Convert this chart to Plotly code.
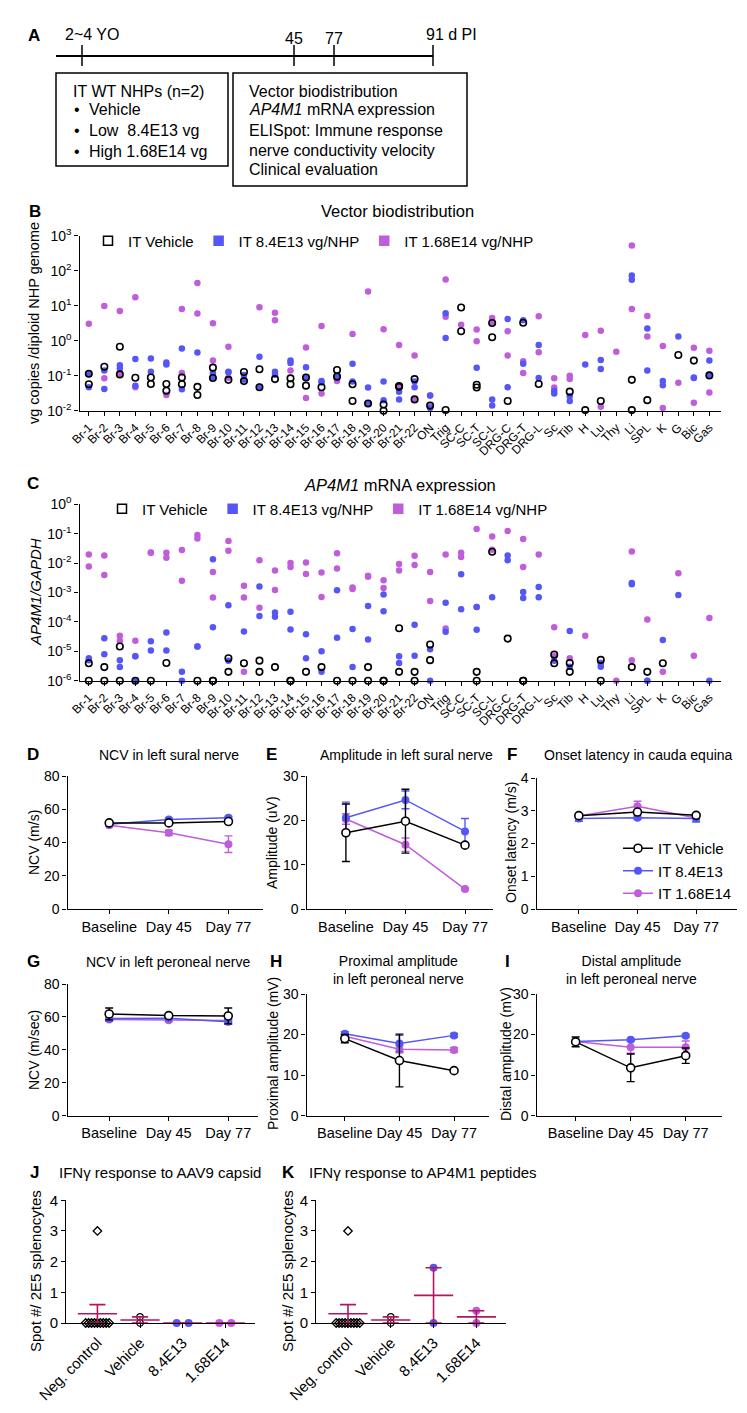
import numpy as np
import plotly.graph_objects as go

W, H = 747, 1413
REG = "Liberation Sans, Arial, sans-serif"
BLUE = "#5457F6"
PURPLE = "#BF5DDA"
CRIMSON = "#B3165E"


def X(p):
    return p / W


def Y(p):
    return 1 - p / H


# ----------------------------- DATA -----------------------------
tissues = ["Br-1", "Br-2", "Br-3", "Br-4", "Br-5", "Br-6", "Br-7", "Br-8", "Br-9", "Br-10",
           "Br-11", "Br-12", "Br-13", "Br-14", "Br-15", "Br-16", "Br-17", "Br-18", "Br-19",
           "Br-20", "Br-21", "Br-22", "ON", "Trig", "SC-C", "SC-T", "SC-L", "DRG-C", "DRG-T",
           "DRG-L", "Sc", "Tib", "H", "Lu", "Thy", "Li", "SPL", "K", "G", "Bic", "Gas"]

# Panel B: vector genome copies / diploid genome (one list per tissue)
bio_vehicle = [[0.114, 0.057], [0.18], [0.67, 0.109], [0.087], [0.089, 0.058], [0.058, 0.037],
               [0.089, 0.057], [0.048, 0.028], [0.17, 0.086], [0.076], [0.128, 0.070],
               [0.153, 0.047], [0.080], [0.084, 0.057], [0.089, 0.052], [0.047], [0.146, 0.094],
               [0.057, 0.019], [0.016], [0.015, 0.010], [0.051, 0.048], [0.080, 0.021],
               [0.014], [0.0105], [8.9, 1.87], [0.046, 0.055], [3.2, 1.25], [0.019], [3.27],
               [0.058], [], [0.035], [0.0104], [0.019], [], [0.076, 0.0104], [0.020], [],
               [0.39], [0.27], [0.102]]
bio_low = [[0.112, 0.047], [0.14, 0.042], [0.20, 0.16], [0.30, 0.052], [0.31, 0.13], [0.21, 0.24],
           [0.60, 0.041], [0.46], [0.12, 0.089], [0.13, 0.125], [0.105, 0.076], [0.35, 0.048],
           [0.13, 0.107], [0.27, 0.23], [0.175, 0.089], [0.070, 0.064], [0.089], [0.22, 0.068],
           [0.046, 0.016], [0.068, 0.020], [0.035, 0.021], [0.068, 0.047],
           [0.027, 0.012], [6.1, 1.20], [], [0.17], [0.021, 0.014], [4.2, 0.047], [3.83, 0.22],
           [0.75, 0.086], [0.031, 0.037], [0.026, 0.019], [0.21], [0.28, 0.156], [], [73, 55],
           [2.24, 0.14], [0.071, 0.053], [1.31], [0.089, 0.086], [0.27, 0.107]]
bio_high = [[3.06], [9.8, 0.084], [7.0, 0.114], [17.5, 0.047], [], [0.028], [8.0, 0.12],
            [44.7, 6.0], [3.13, 0.27], [0.67, 0.087], [], [9.1], [6.25, 3.83], [0.14],
            [0.64, 0.023], [2.61, 0.031], [0.070], [1.56], [25.6], [2.14], [0.75, 0.051],
            [0.38, 0.021], [0.027, 0.013], [56, 4.8], [2.86], [2.09, 0.96], [4.47, 3.35],
            [1.87, 0.38], [0.26, 0.12], [5.0, 0.47], [0.084, 0.046], [0.080, 0.10], [1.46],
            [1.91, 0.013], [0.48], [523, 8.0], [5.1, 1.31], [0.71, 0.012], [0.063],
            [0.63, 0.017], [0.52, 0.033]]

# Panel C: AP4M1 / GAPDH
mrna_vehicle = [[3.9e-6, 1e-6], [2.9e-6, 1e-6], [1.45e-5, 1e-6], [1e-6], [1e-6], [4.0e-6], [],
                [1e-6], [1e-6, 1e-6], [5.8e-6, 2.0e-6], [3.9e-6], [4.8e-6, 2.0e-6], [2.9e-6],
                [1e-6, 1e-6], [2.0e-6], [2.9e-6], [1e-6], [1e-6], [2.9e-6, 1e-6], [1e-6, 1e-6],
                [6.1e-5, 2.0e-6], [2.0e-6, 1e-6], [1.7e-5, 5.0e-6], [], [], [2.0e-6, 1e-6],
                [0.0243], [2.7e-5], [1e-6, 1e-6], [], [7.7e-6, 3.9e-6], [4.0e-6, 2.0e-6], [],
                [5.1e-6, 1e-6], [], [2.9e-6], [2.0e-6], [3.9e-6], [], [], []]
mrna_low = [[5.8e-6, 5.0e-6], [2.8e-5, 7.9e-6], [5.0e-6, 2.9e-6], [6.8e-6, 1e-6],
            [2.2e-5, 1.06e-5], [4.4e-5, 1.06e-5], [2.0e-6, 1e-6], [1.45e-5, 1.45e-5],
            [0.0136, 6.6e-5], [3.7e-4, 4.8e-6], [4.7e-5], [1.6e-3, 1.6e-4], [2.1e-4, 1.5e-4],
            [2.2e-4, 5.5e-5], [3.8e-5, 5.8e-6], [1.0e-5, 2.0e-6], [1.19e-3, 2.9e-5],
            [5.7e-5, 2.9e-6], [3.5e-4, 2.5e-5], [8.5e-4, 2.3e-4], [6.8e-6, 4.0e-6],
            [8.0e-5, 7.0e-6], [1.18e-5, 1e-6], [4.5e-4, 4.6e-5], [4.2e-3, 2.7e-4],
            [3.2e-4, 5.4e-5], [6.9e-4], [0.0182, 0.0126], [1.04e-3, 6.5e-4], [1.55e-3, 6.9e-4],
            [4.8e-6], [4.9e-5, 3.0e-6], [], [3.0e-6, 4.0e-6], [], [1.9e-3, 2.1e-3], [1e-6],
            [2.4e-5], [8.2e-4], [], [1e-6]]
mrna_high = [[0.0197, 0.0077], [0.0182, 0.0039], [2.3e-5, 3.4e-5], [2.3e-5, 6.8e-6],
             [0.0230, 0.0224], [0.0224, 0.0151], [0.0277, 0.0025], [0.090, 0.069],
             [0.0050, 6.7e-4], [0.056, 0.0262], [1.7e-3, 6.7e-4, 2.0e-6], [0.0126, 3.0e-4],
             [0.0056, 1.22e-3], [0.0074, 0.0100], [0.0105, 0.0043], [0.0048, 7.0e-4],
             [0.0218, 0.0065], [1.47e-3, 1.32e-3], [0.0034, 0.0037], [0.0026, 1.43e-3],
             [0.0056, 0.0094], [0.0177, 0.0087], [0.0050, 5.1e-4], [0.0197, 6.0e-5],
             [0.0160, 0.0224], [0.144, 3.2e-4], [0.081, 0.0284], [0.123], [0.066, 0.0074],
             [0.0197], [6.6e-5, 6.8e-6], [5.8e-6], [3.4e-5], [4.0e-6], [1e-6], [0.0249, 5.0e-6],
             [1.2e-4, 1e-6], [2.0e-6], [0.0045], [7.0e-6], [1.35e-4]]

bio_ticks = [1e-2, 1e-1, 1e0, 1e1, 1e2, 1e3]
bio_ticktext = ["10<sup>-2</sup>", "10<sup>-1</sup>", "10<sup>0</sup>", "10<sup>1</sup>",
                "10<sup>2</sup>", "10<sup>3</sup>"]
mrna_ticks = [1e-6, 1e-5, 1e-4, 1e-3, 1e-2, 1e-1, 1e0]
mrna_ticktext = ["10<sup>-6</sup>", "10<sup>-5</sup>", "10<sup>-4</sup>", "10<sup>-3</sup>",
                 "10<sup>-2</sup>", "10<sup>-1</sup>", "10<sup>0</sup>"]

# Panels D-I: electrophysiology (mean, error)
timepoints = ["Baseline", "Day 45", "Day 77"]
sural_ncv = {"veh": [51.8, 51.8, 52.6], "low": [51.0, 53.8, 54.9], "high": [50.4, 45.8, 39.0]}
sural_ncv_err = {"veh": [0.6, 0.6, 0.8], "low": [0.8, 0.8, 0.8], "high": [0.8, 1.6, 5.0]}
sural_amp = {"veh": [17.2, 19.8, 14.4], "low": [20.6, 24.6, 17.5], "high": [20.3, 14.5, 4.5]}
sural_amp_err = {"veh": [6.5, 7.2, 0.5], "low": [3.5, 2.0, 2.9], "high": [1.2, 1.5, 0.3]}
cauda_onset = {"veh": [2.85, 2.96, 2.86], "low": [2.76, 2.79, 2.76], "high": [2.84, 3.14, 2.78]}
cauda_onset_err = {"veh": [0.05, 0.05, 0.05], "low": [0.08, 0.05, 0.1], "high": [0.05, 0.15, 0.12]}
peroneal_ncv = {"veh": [61.8, 60.8, 60.6], "low": [59.0, 59.2, 57.1], "high": [58.4, 58.0, 57.8]}
peroneal_ncv_err = {"veh": [3.6, 1.0, 4.8], "low": [1.5, 0.8, 1.5], "high": [0.8, 0.8, 0.8]}
prox_amp = {"veh": [19.0, 13.6, 11.1], "low": [20.2, 17.8, 19.8], "high": [19.6, 16.4, 16.2]}
prox_amp_err = {"veh": [1.0, 6.5, 0.4], "low": [0.5, 2.0, 0.5], "high": [0.5, 0.9, 0.6]}
dist_amp = {"veh": [18.2, 11.8, 14.8], "low": [18.3, 18.7, 19.7], "high": [18.3, 16.9, 16.9]}
dist_amp_err = {"veh": [1.2, 3.4, 1.9], "low": [0.3, 0.3, 0.3], "high": [0.5, 1.5, 1.5]}

# Panels J-K: ELISpot
elispot_groups = ["Neg. control", "Vehicle", "8.4E13", "1.68E14"]
capsid_neg = [0, 0, 0, 0, 0, 0, 0, 0, 0, 3]
capsid_veh = [0.2, 0]
capsid_low = [0, 0]
capsid_high = [0, 0]
peptide_neg = [0, 0, 0, 0, 0, 0, 0, 0, 0, 3]
peptide_veh = [0.2, 0]
peptide_low = [1.8, 0]
peptide_high = [0.4, 0]

assert len(tissues) == len(bio_vehicle) == len(bio_low) == len(bio_high) == 41
assert len(mrna_vehicle) == len(mrna_low) == len(mrna_high) == 41

# ----------------------------- FIGURE -----------------------------
fig = go.Figure()
layout = {}
annotations = []
shapes = []

AX = dict(showline=True, linecolor="black", linewidth=1.4, ticks="outside", ticklen=4,
          tickwidth=1.3, tickcolor="black", showgrid=False, zeroline=False, fixedrange=True,
          automargin=False, tickfont=dict(family=REG, size=14, color="black"))


def axes(n, x0, x1, ytop, ybot, xcfg, ycfg):
    xs = "xaxis" if n == 1 else f"xaxis{n}"
    ys = "yaxis" if n == 1 else f"yaxis{n}"
    xa = dict(AX)
    xa.update(domain=[X(x0), X(x1)], anchor="y" if n == 1 else f"y{n}")
    xa.update(xcfg)
    ya = dict(AX)
    ya.update(domain=[Y(ybot), Y(ytop)], anchor="x" if n == 1 else f"x{n}")
    ya.update(ycfg)
    layout[xs] = xa
    layout[ys] = ya
    return ("x" if n == 1 else f"x{n}"), ("y" if n == 1 else f"y{n}")


def text(x, y, s, size=14, xanchor="center", yanchor="middle", angle=0, bold=False):
    if bold:
        s = f"<b>{s}</b>"
    annotations.append(dict(x=X(x), y=Y(y), xref="paper", yref="paper", text=s,
                            showarrow=False, xanchor=xanchor, yanchor=yanchor,
                            textangle=angle, font=dict(family=REG, size=size, color="black")))


def pline(x0, y0, x1, y1, w=1.5):
    shapes.append(dict(type="line", xref="paper", yref="paper", x0=X(x0), y0=Y(y0),
                       x1=X(x1), y1=Y(y1), line=dict(color="black", width=w)))


def prect(x0, y0, x1, y1, w=1.5):
    shapes.append(dict(type="rect", xref="paper", yref="paper", x0=X(x0), y0=Y(y0),
                       x1=X(x1), y1=Y(y1), line=dict(color="black", width=w)))


def flatten(groups):
    xs, ys = [], []
    for t, vals in zip(tissues, groups):
        for v in vals:
            xs.append(t)
            ys.append(v)
    return xs, ys


# ---------- Panel A (study design diagram) ----------
text(26, 28, "A", size=17, bold=True)
pline(48, 48, 425, 48, 1.8)
for tx in (74, 286, 326, 425):
    pline(tx, 37, tx, 58, 1.5)
text(84, 27, "2~4 YO", size=16)
text(286, 31, "45", size=16)
text(326, 31, "77", size=16)
text(443, 27, "91 d PI", size=16)
prect(48, 65, 220, 158)
prect(225, 65, 459, 178)
text(63, 83, "IT WT NHPs (n=2)", size=16, xanchor="left")
for yy, s in ((102, "Vehicle"), (122, "Low  8.4E13 vg"), (143, "High 1.68E14 vg")):
    text(64, yy, "•", size=16, xanchor="left")
    text(79, yy, s, size=16, xanchor="left")
for yy, s in ((83, "Vector biodistribution"), (102, "<i>AP4M1</i> mRNA expression"),
              (122, "ELISpot: Immune response"), (142, "nerve conductivity velocity"),
              (161, "Clinical evaluation")):
    text(239, yy, s, size=16, xanchor="left")

# ---------- Panel B ----------
CAT_X = dict(type="category", categoryorder="array", categoryarray=tissues,
             tickmode="array", tickvals=tissues, ticktext=tissues,
             range=[-0.6, 40.75], tickangle=-45,
             tickfont=dict(family=REG, size=12, color="black"))
xb, yb = axes(1, 71.5, 713, 227.7, 402.7, dict(CAT_X),
              dict(type="log", range=[-2, 3], tickvals=bio_ticks, ticktext=bio_ticktext,
                   tickfont=dict(family=REG, size=14, color="black")))
for groups, color, sym in ((bio_high, PURPLE, "circle"), (bio_low, BLUE, "circle"),
                           (bio_vehicle, "black", "circle-open")):
    gx, gy = flatten(groups)
    fig.add_trace(go.Scatter(x=gx, y=gy, mode="markers", xaxis=xb, yaxis=yb, showlegend=False,
                             cliponaxis=False,
                             marker=dict(symbol=sym, size=6.5, color=color,
                                         line=dict(width=1.6 if sym == "circle-open" else 0,
                                                   color=color))))
text(27, 203, "B", size=17, bold=True)
text(389, 203, "Vector biodistribution", size=16.5)
text(26, 315, "vg copies /diploid NHP genome", size=14.5, angle=-90)

# ---------- Panel C ----------
xc, yc = axes(2, 71.5, 713, 496.3, 672.7, dict(CAT_X),
              dict(type="log", range=[-6, 0], tickvals=mrna_ticks, ticktext=mrna_ticktext,
                   tickfont=dict(family=REG, size=14, color="black")))
for groups, color, sym in ((mrna_high, PURPLE, "circle"), (mrna_low, BLUE, "circle"),
                           (mrna_vehicle, "black", "circle-open")):
    gx, gy = flatten(groups)
    fig.add_trace(go.Scatter(x=gx, y=gy, mode="markers", xaxis=xc, yaxis=yc, showlegend=False,
                             cliponaxis=False,
                             marker=dict(symbol=sym, size=6.5, color=color,
                                         line=dict(width=1.6 if sym == "circle-open" else 0,
                                                   color=color))))
text(25, 475, "C", size=17, bold=True)
text(392, 477, "<i>AP4M1</i> mRNA expression", size=16.5)
text(27, 584, "<i>AP4M1/GAPDH</i>", size=15, angle=-90)

# legends for B and C (square keys)
for lg, xa_, ya_ in (("legend", xb, yb), ("legend2", xc, yc)):
    for name, color, sym in (("IT Vehicle", "black", "square-open"),
                             ("IT 8.4E13 vg/NHP", BLUE, "square"),
                             ("IT 1.68E14 vg/NHP", PURPLE, "square")):
        fig.add_trace(go.Scatter(x=[None], y=[None], mode="markers", name=name, legend=lg,
                                 xaxis=xa_, yaxis=ya_,
                                 marker=dict(symbol=sym, size=9, color=color,
                                             line=dict(width=1.5, color=color))))

# ---------- Panels D-I ----------
SER = (("high", PURPLE, "IT 1.68E14"), ("low", BLUE, "IT 8.4E13"), ("veh", "black", "IT Vehicle"))


def ephys(n, x0, x1, ytop, ybot, xr, yr, dtick, means, errs, legend=False):
    xa_, ya_ = axes(n, x0, x1, ytop, ybot,
                    dict(type="category", categoryorder="array", categoryarray=timepoints,
                         range=xr, tickangle=0,
                         tickfont=dict(family=REG, size=14.5, color="black")),
                    dict(range=yr, dtick=dtick, tick0=0))
    for key, color, name in SER:
        veh = key == "veh"
        fig.add_trace(go.Scatter(
            x=timepoints, y=means[key], mode="lines+markers", name=name, xaxis=xa_, yaxis=ya_,
            showlegend=legend, legend="legend3", cliponaxis=False,
            line=dict(color=color, width=1.5),
            marker=dict(symbol="circle", size=8, color="white" if veh else color,
                        line=dict(color=color, width=1.6 if veh else 0)),
            error_y=dict(type="data", array=errs[key], color=color, thickness=1.4, width=4)))


ephys(3, 59.5, 255, 768, 901, [-0.70, 2.58], [0, 80], 20, sural_ncv, sural_ncv_err)
ephys(4, 298.6, 485, 768, 901, [-0.66, 2.47], [0, 30], 10, sural_amp, sural_amp_err)
ephys(5, 528.6, 728.6, 770, 901, [-0.72, 2.69], [0, 4], 1, cauda_onset, cauda_onset_err,
      legend=True)
ephys(6, 59.5, 250, 976, 1107.7, [-0.70, 2.5], [0, 80], 20, peroneal_ncv, peroneal_ncv_err)
ephys(7, 298.6, 481, 986, 1107.7, [-0.70, 2.64], [0, 30], 10, prox_amp, prox_amp_err)
ephys(8, 528.6, 714, 986, 1107.7, [-0.71, 2.66], [0, 30], 10, dist_amp, dist_amp_err)

text(25, 746, "D", size=17, bold=True)
text(263, 746, "E", size=17, bold=True)
text(504, 746, "F", size=17, bold=True)
text(161, 747, "NCV in left sural nerve", size=14)
text(398, 747, "Amplitude in left sural nerve", size=14)
text(630, 747, "Onset latency in cauda equina", size=14)
text(26, 835, "NCV (m/s)", size=14, angle=-90)
text(264, 835, "Amplitude (uV)", size=14, angle=-90)
text(503, 835, "Onset latency (m/s)", size=14, angle=-90)

text(25, 953, "G", size=17, bold=True)
text(268, 953, "H", size=17, bold=True)
text(499, 953, "I", size=17, bold=True)
text(160, 954, "NCV in left peroneal nerve", size=14)
text(391, 962, "Proximal amplitude<br>in left peroneal nerve", size=14)
text(623, 962, "Distal amplitude<br>in left peroneal nerve", size=14)
text(26, 1042, "NCV (m/sec)", size=14, angle=-90)
text(265, 1046, "Proximal amplitude (mV)", size=14, angle=-90)
text(498, 1046, "Distal amplitude (mV)", size=14, angle=-90)


# ---------- Panels J-K ----------
def swarm(vals, center, step_max=0.28, span=0.55):
    vals = np.asarray(vals, float)
    xs = np.full(len(vals), float(center))
    for v in np.unique(vals):
        idx = np.where(vals == v)[0]
        k = len(idx)
        if k > 1:
            step = min(step_max, span / (k - 1))
            xs[idx] = center + (np.arange(k) - (k - 1) / 2) * step
    return xs


def elispot(n, x0, x1, xr, series):
    xa_, ya_ = axes(n, x0, x1, 1192.3, 1315,
                    dict(range=xr, tickmode="array", tickvals=list(range(len(elispot_groups))),
                         ticktext=elispot_groups, tickangle=-45,
                         tickfont=dict(family=REG, size=15, color="black")),
                    dict(range=[0, 4], dtick=1, tick0=0,
                         tickfont=dict(family=REG, size=15, color="black")))
    styles = (("diamond-open", "black", 6.5), ("circle-open", "black", 6.5),
              ("circle", BLUE, 8), ("circle", PURPLE, 8))
    for i, (vals, (sym, color, size)) in enumerate(zip(series, styles)):
        fig.add_trace(go.Scatter(
            x=swarm(vals, i), y=vals, mode="markers", xaxis=xa_, yaxis=ya_, showlegend=False,
            cliponaxis=False,
            marker=dict(symbol=sym, size=size, color=color,
                        line=dict(width=1.3 if "open" in sym else 0, color=color))))
    means = [float(np.mean(v)) for v in series]
    sems = [float(np.std(v, ddof=1) / np.sqrt(len(v))) for v in series]
    fig.add_trace(go.Scatter(
        x=list(range(len(series))), y=means, mode="markers", xaxis=xa_, yaxis=ya_,
        showlegend=False, cliponaxis=False,
        marker=dict(symbol="line-ew", size=28, color=CRIMSON, line=dict(width=1.6, color=CRIMSON)),
        error_y=dict(type="data", array=sems, color=CRIMSON, thickness=1.6, width=8)))


elispot(9, 58.3, 246.7, [-0.73, 3.69], [capsid_neg, capsid_veh, capsid_low, capsid_high])
elispot(10, 308.3, 498.3, [-0.74, 3.70], [peptide_neg, peptide_veh, peptide_low, peptide_high])
text(26, 1164, "J", size=17, bold=True)
text(280, 1164, "K", size=17, bold=True)
text(49, 1164, "IFNγ response to AAV9 capsid", size=15, xanchor="left")
text(299, 1164, "IFNγ response to AP4M1 peptides", size=15, xanchor="left")
text(27, 1263, "Spot #/ 2E5 splenocytes", size=15, angle=-90)
text(279, 1263, "Spot #/ 2E5 splenocytes", size=15, angle=-90)

# ---------- Layout ----------
LEG = dict(orientation="h", xanchor="left", yanchor="middle", bgcolor="rgba(0,0,0,0)",
           borderwidth=0, itemwidth=30, font=dict(family=REG, size=15, color="black"),
           itemclick=False, itemdoubleclick=False)
layout["legend"] = dict(LEG, x=X(80), y=Y(233))
layout["legend2"] = dict(LEG, x=X(94), y=Y(501))
layout["legend3"] = dict(orientation="v", xanchor="left", yanchor="top", x=X(610), y=Y(824),
                         bgcolor="rgba(0,0,0,0)", borderwidth=0, itemwidth=30,
                         traceorder="reversed", tracegroupgap=0,
                         font=dict(family=REG, size=15, color="black"),
                         itemclick=False, itemdoubleclick=False)

fig.update_layout(width=W, height=H, margin=dict(l=0, r=0, t=0, b=0, autoexpand=False),
                  template="none", paper_bgcolor="white", plot_bgcolor="white",
                  font=dict(family=REG, color="black"),
                  annotations=annotations, shapes=shapes, **layout)
fig.write_html("out.html")
